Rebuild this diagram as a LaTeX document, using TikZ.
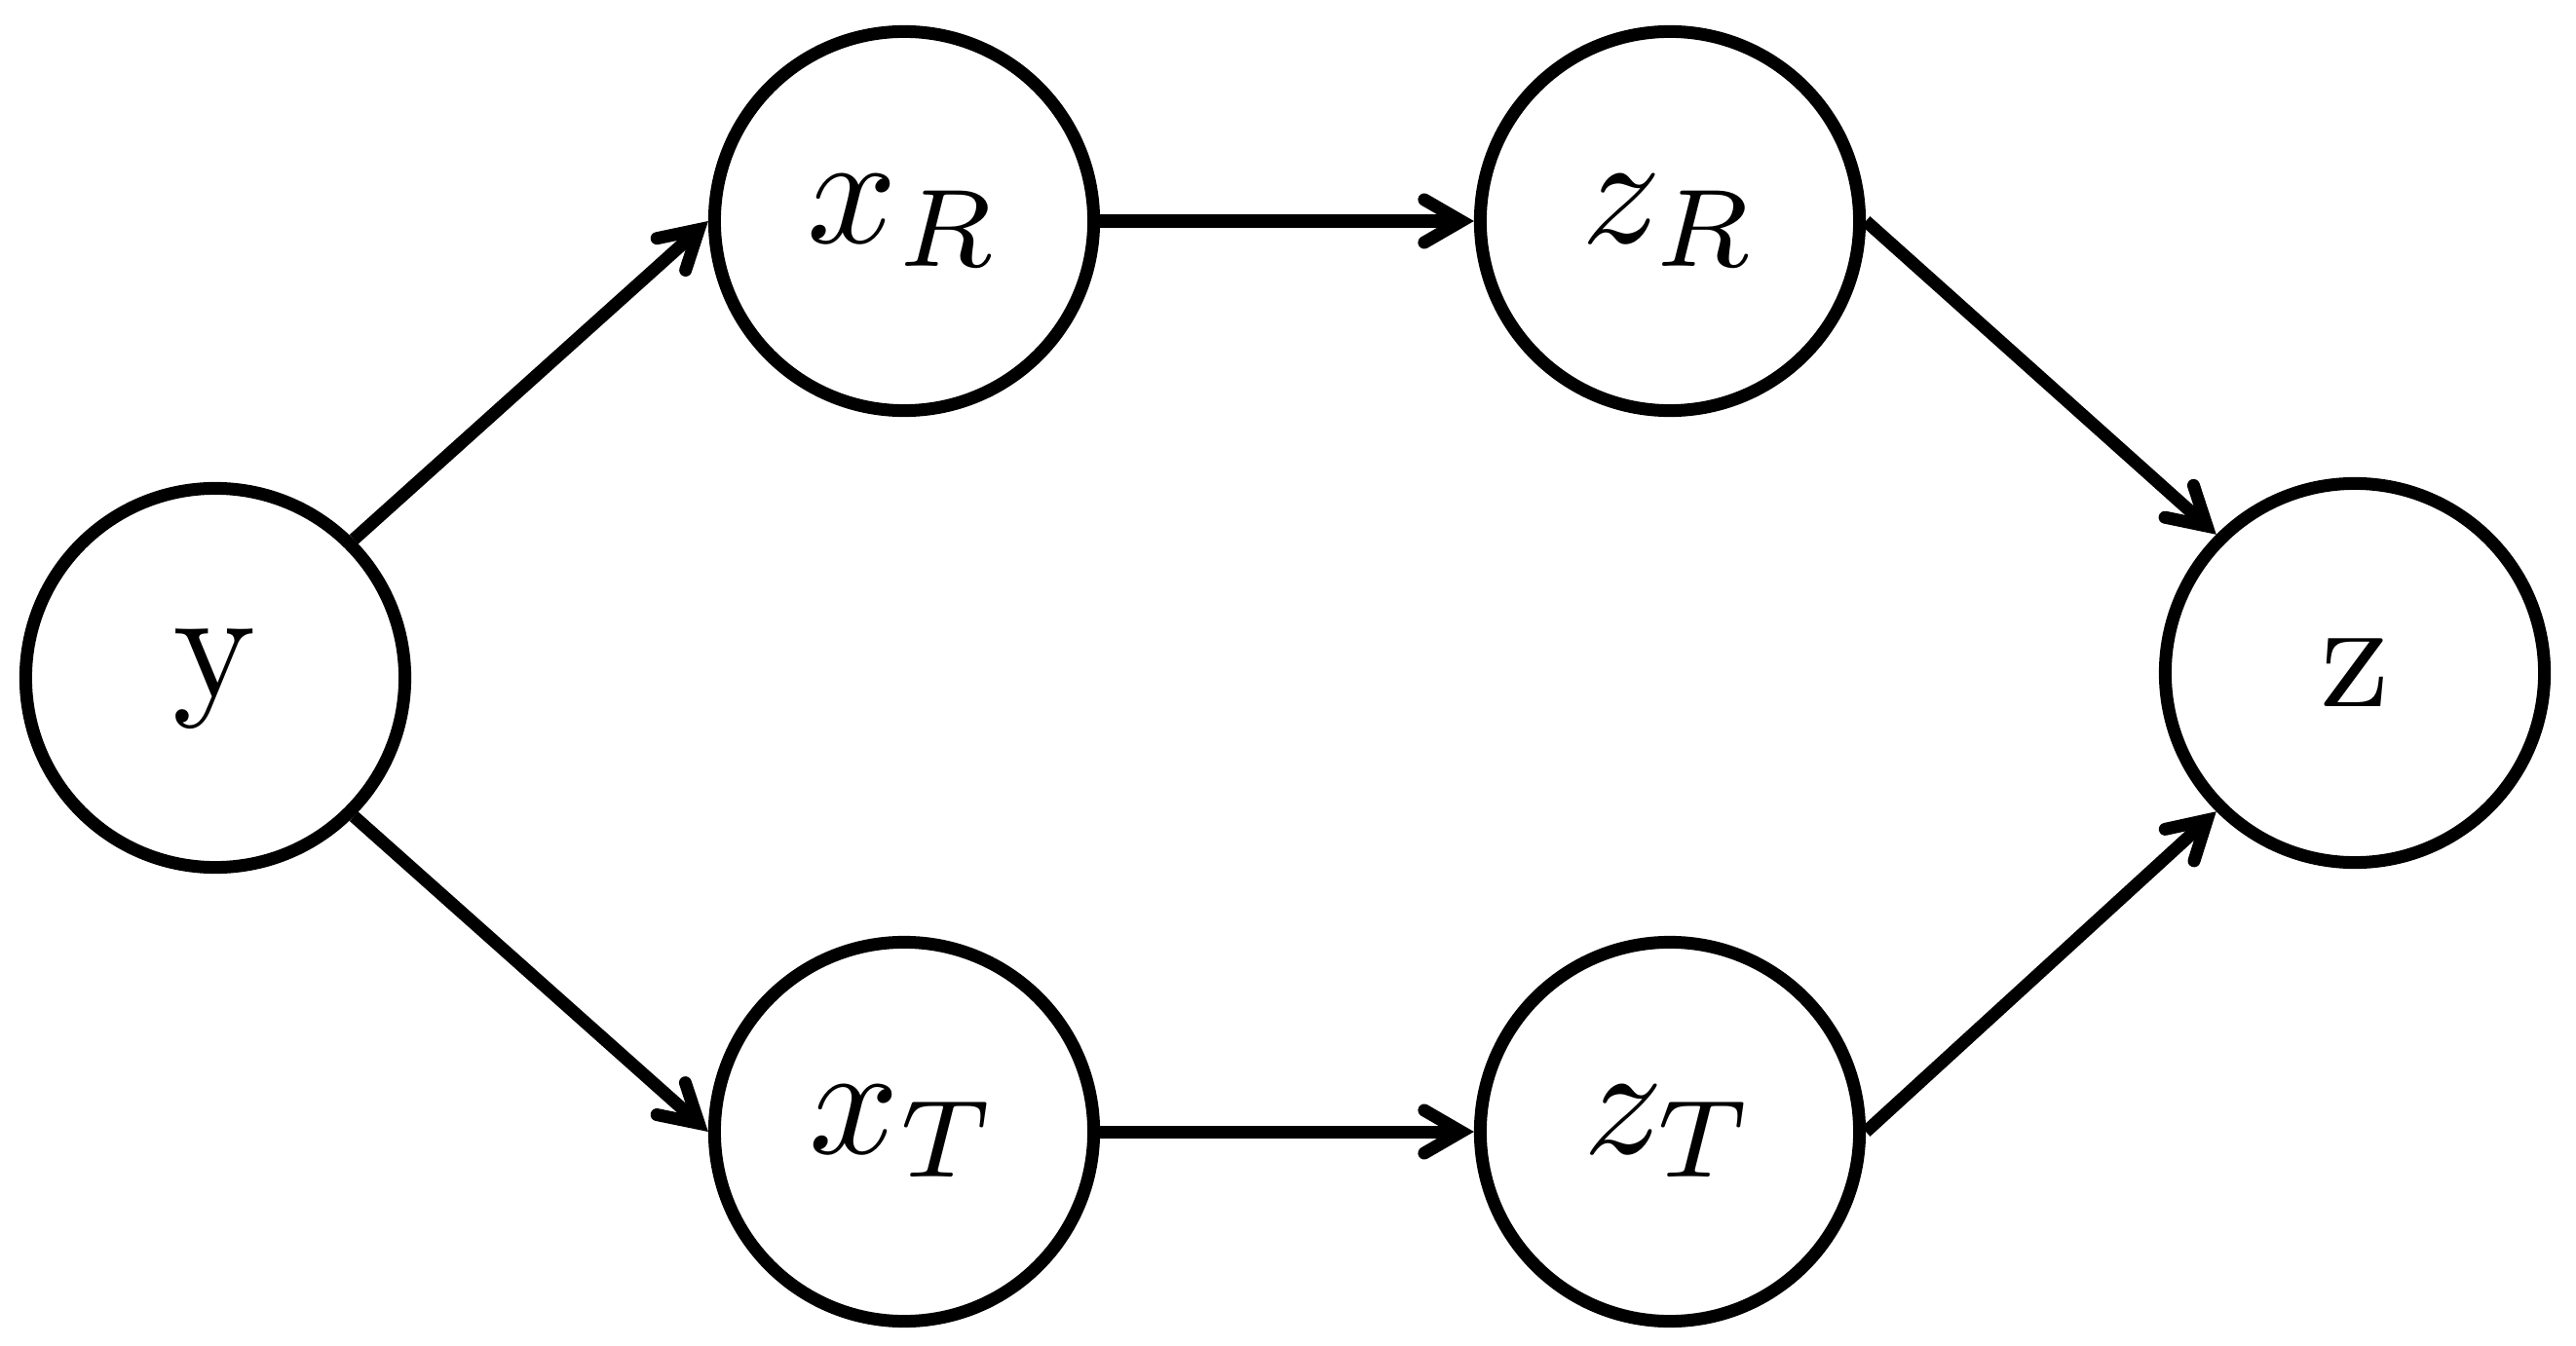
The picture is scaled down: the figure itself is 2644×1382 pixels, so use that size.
\documentclass[tikz,border=0pt]{standalone}
\usepackage{graphicx}
\usetikzlibrary{arrows.meta}
\newcommand{\biglabel}[1]{\scalebox{4.6}{$#1$}}
\begin{document}
\begin{tikzpicture}[x=0.01cm,y=-0.01cm,
  var/.style={circle, draw, line width=0.13cm, minimum size=3.89cm, inner sep=0pt},
  link/.style={line width=0.13cm, -{Straight Barb[length=0.38cm,width=0.44cm,line cap=round]}}]
\useasboundingbox (0,0) rectangle (2644,1382);
\node[var] (y)  at (221,696)  {\biglabel{\mathrm{y}}};
\node[var] (xR) at (928,227)  {\biglabel{x_R}};
\node[var] (zR) at (1714,227) {\biglabel{z_R}};
\node[var] (xT) at (928,1162) {\biglabel{x_T}};
\node[var] (zT) at (1714,1162) {\biglabel{z_T}};
\node[var] (z)  at (2417,691) {\biglabel{\mathrm{z}}};
\draw[link] (y.45) -- (xR.west);
\draw[link] (y.-45) -- (xT.west);
\draw[link] (xR) -- (zR);
\draw[link] (xT) -- (zT);
\draw[link] (zR.east) -- (z.135);
\draw[link] (zT.east) -- (z.-135);
\end{tikzpicture}
\end{document}
